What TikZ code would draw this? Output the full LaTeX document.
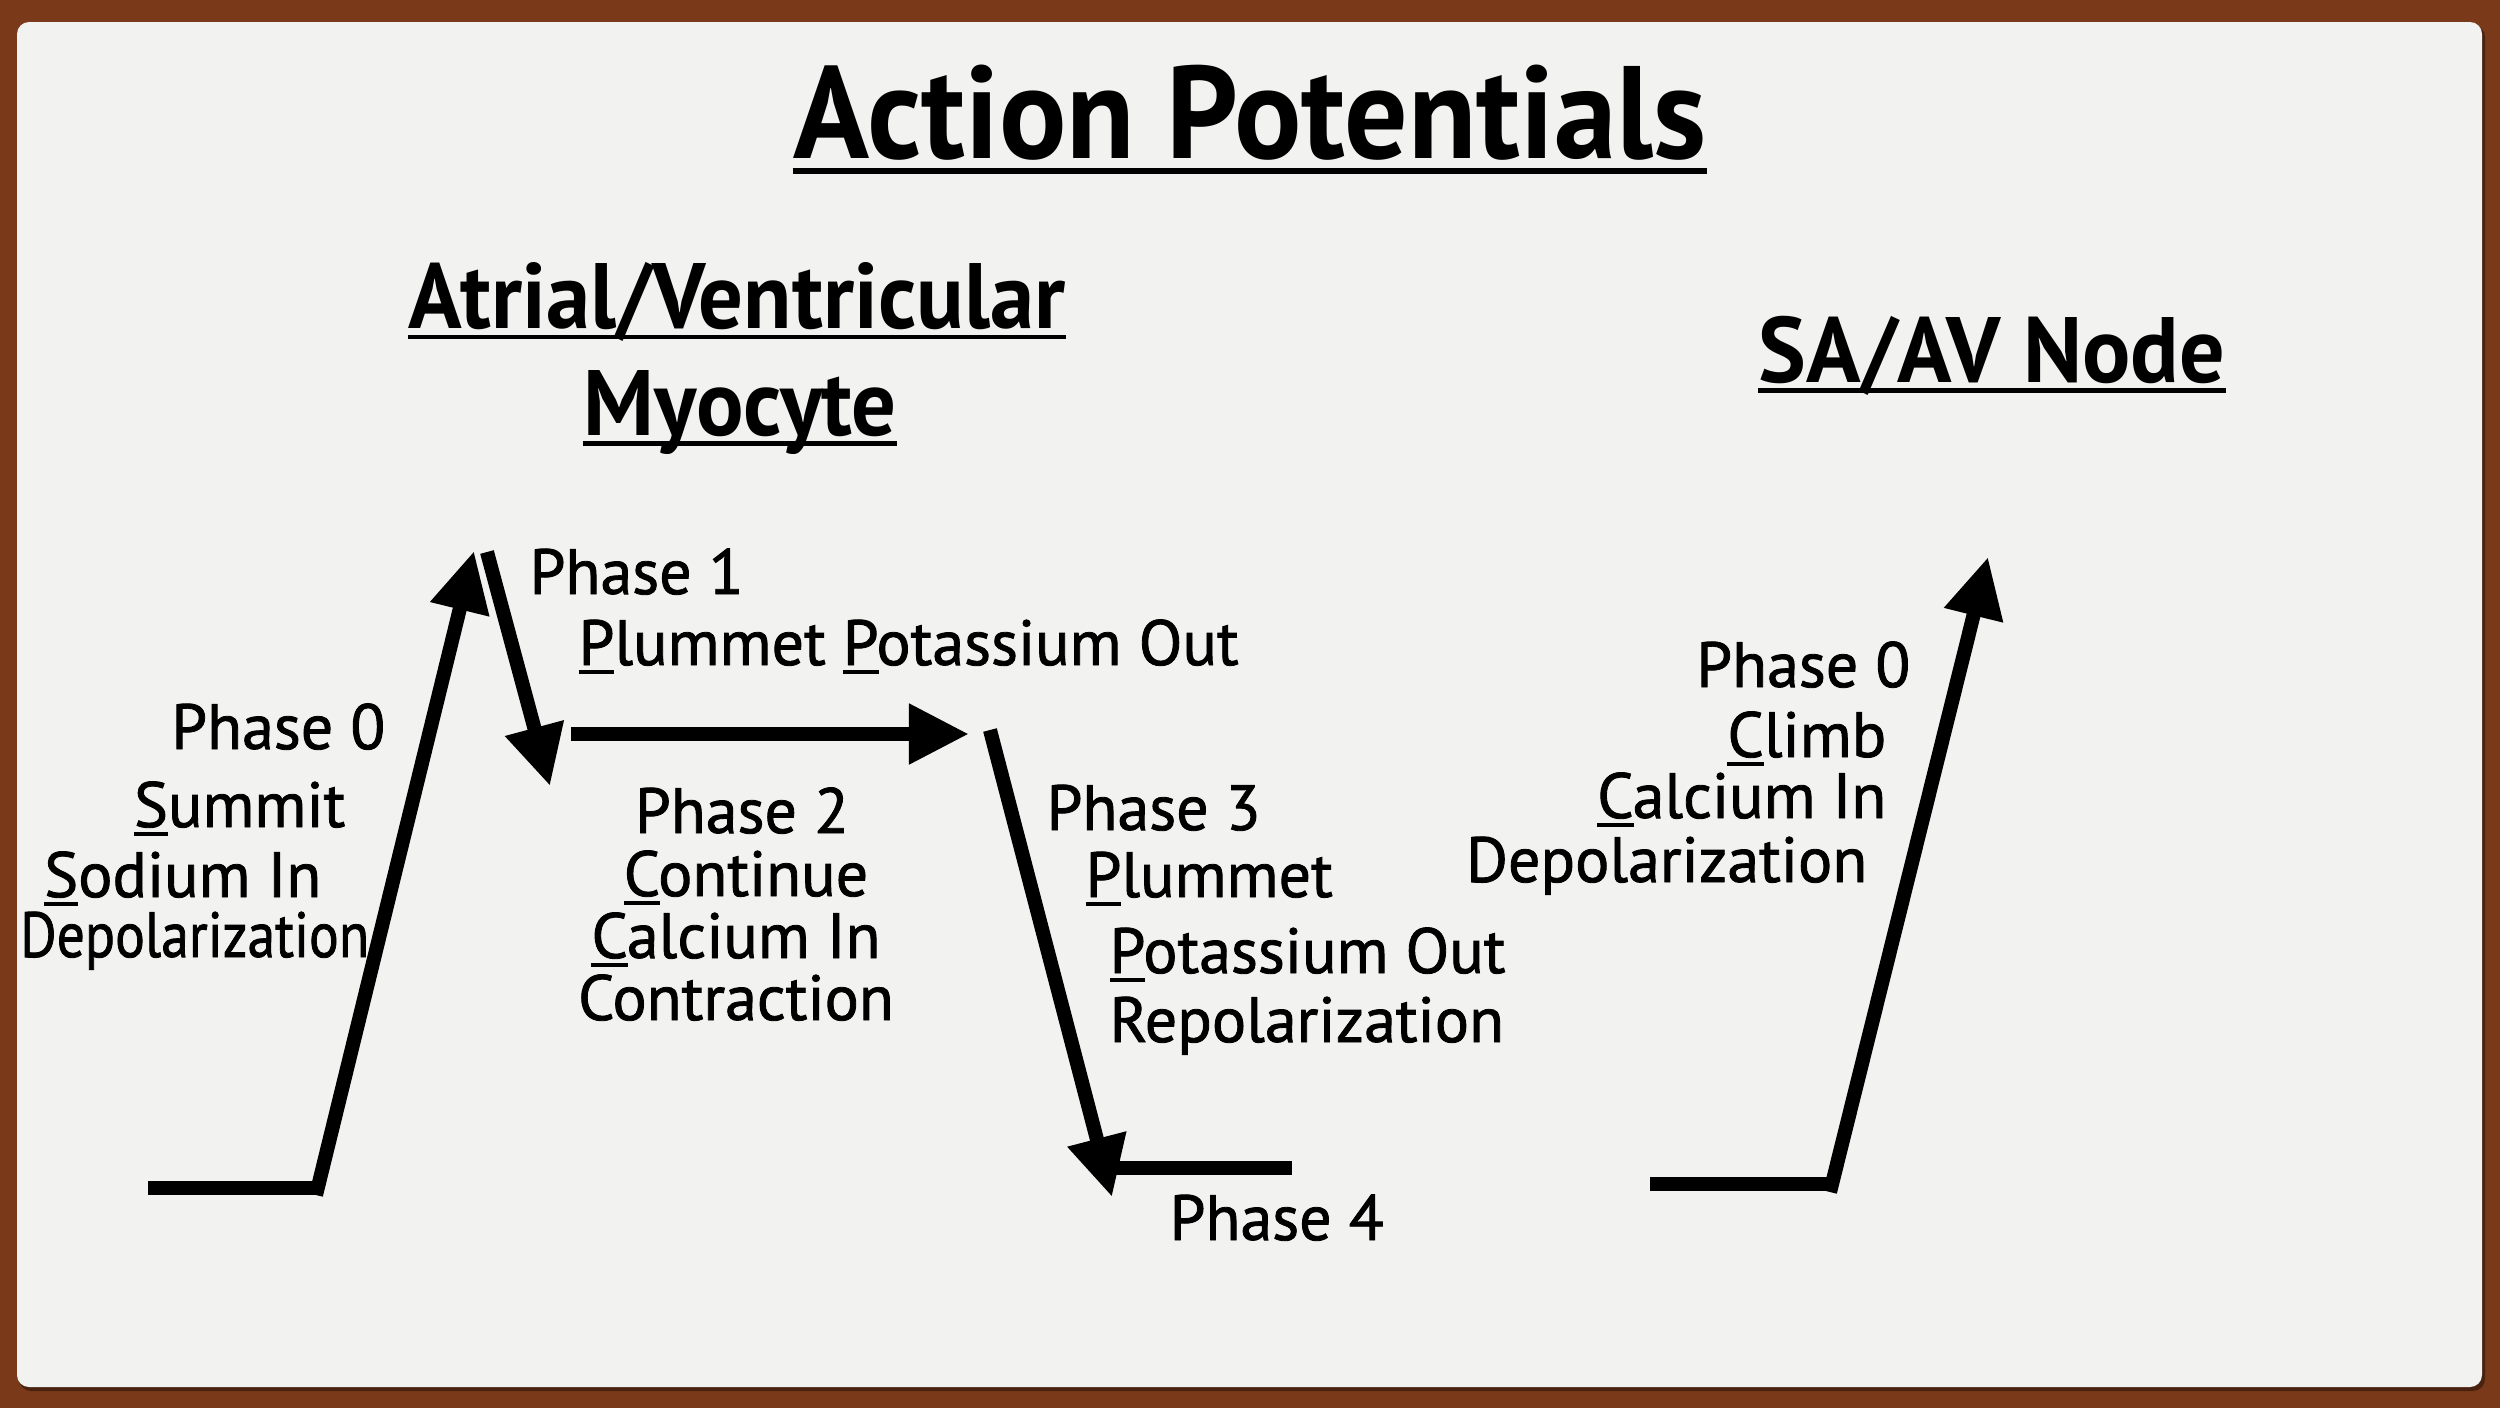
\documentclass[tikz,border=0pt]{standalone}
\usepackage{fontspec}
\setmainfont{PT Sans}
\newfontfamily\lblfont{PT Sans}[FakeBold=1.3]
\usetikzlibrary{arrows.meta}

\definecolor{woodframe}{RGB}{122,58,26}
\definecolor{paper}{RGB}{242,242,240}

% underlined first letter
\newcommand{\ulet}[1]{\setbox0\hbox{#1}\rlap{\rule[-0.145em]{\wd0}{0.06em}}#1}

\begin{document}
\begin{tikzpicture}[
  x=0.01cm, y=-0.01cm,
  lbl/.style={inner sep=0pt, font=\lblfont\fontsize{18.2}{20}\selectfont},
  head/.style={inner sep=0pt, font=\fontsize{26.4}{30}\selectfont\bfseries},
  ttl/.style={inner sep=0pt, font=\fontsize{37.4}{42}\selectfont\bfseries},
  ulline/.style={line width=1.3pt},
  trace/.style={line width=4pt},
  arr/.style={trace, -{Triangle[length=0.6cm, width=0.57cm]}}
]
  % frame and paper
  \fill[woodframe] (0,0) rectangle (2500,1408);
  \fill[woodframe!60!black, rounded corners=0.12cm] (19,25) rectangle (2485,1391);
  \fill[paper, rounded corners=0.12cm] (17,22) rectangle (2482,1387);

  % headings
  \node[ttl, anchor=base] (title) at (1250,158) {\scalebox{0.955}[1]{Action Potentials}};
  \draw[line width=1.8pt] ([yshift=-3.7pt]title.base west) -- ([yshift=-3.7pt]title.base east);
  \node[head, anchor=base] (myoA) at (737,328) {\scalebox{0.954}[1]{Atrial/Ventricular}};
  \draw[ulline] ([yshift=-2.6pt]myoA.base west) -- ([yshift=-2.6pt]myoA.base east);
  \node[head, anchor=base] (myoB) at (740,435) {\scalebox{0.954}[1]{Myocyte}};
  \draw[ulline] ([yshift=-2.4pt]myoB.base west) -- ([yshift=-2.4pt]myoB.base east);
  \node[head, anchor=base] (sahead) at (1992,382) {\scalebox{0.97}[1]{SA/AV Node}};
  \draw[ulline] ([yshift=-2.4pt]sahead.base west) -- ([yshift=-2.4pt]sahead.base east);

  % myocyte labels
  \node[lbl, anchor=base east] (ph0) at (386,749) {Phase 0};
  \node[lbl, anchor=base east] (summit) at (346,827) {\ulet{S}ummit};
  \node[lbl, anchor=base east] (sodium) at (322,897) {\ulet{S}odium In};
  \node[lbl, anchor=base east] (depolA) at (370,957) {\scalebox{0.87}[1]{Depolarization}};

  \node[lbl, anchor=base west] (ph1) at (529,594) {Phase 1};
  \node[lbl, anchor=base west] (plumA) at (578,665) {\ulet{P}lummet \ulet{P}otassium Out};

  \node[lbl, anchor=base] (ph2) at (742,833) {Phase 2};
  \node[lbl, anchor=base] (cont) at (746,896) {\ulet{C}ontinue};
  \node[lbl, anchor=base] (calcA) at (736,958) {\ulet{C}alcium In};
  \node[lbl, anchor=base] (contr) at (736,1020) {Contraction};

  \node[lbl, anchor=base west] (ph3) at (1046,830) {Phase 3};
  \node[lbl, anchor=base west] (plumB) at (1085,897) {\ulet{P}lummet};
  \node[lbl, anchor=base west] (potB) at (1109,973) {\ulet{P}otassium Out};
  \node[lbl, anchor=base west] (repol) at (1109,1042) {Repolarization};

  \node[lbl, anchor=base west] (ph4) at (1169,1240) {Phase 4};

  % node labels
  \node[lbl, anchor=base east] (sa0) at (1911,687) {Phase 0};
  \node[lbl, anchor=base east] (climb) at (1887,757) {\ulet{C}limb};
  \node[lbl, anchor=base east] (calcB) at (1887,818) {\ulet{C}alcium In};
  \node[lbl, anchor=base east] (depolB) at (1868,882) {Depolarization};

  % myocyte trace
  \coordinate (restA) at (148,1188);
  \coordinate (footA) at (323,1188);
  \coordinate (riseA) at (316,1195);
  \coordinate (peakA) at (474,551);
  \coordinate (topB) at (487,552);
  \coordinate (notch) at (550,786);
  \coordinate (platL) at (571,734);
  \coordinate (platR) at (969,734);
  \coordinate (fallA) at (990,730);
  \coordinate (fallB) at (1112,1197);
  \coordinate (restB) at (1112,1168);
  \coordinate (restC) at (1292,1168);
  \draw[trace] (restA) -- (footA);
  \draw[arr] (riseA) -- (peakA);
  \draw[arr] (topB) -- (notch);
  \draw[arr] (platL) -- (platR);
  \draw[arr] (fallA) -- (fallB);
  \draw[trace] (restB) -- (restC);

  % nodal trace
  \coordinate (nrest) at (1650,1184);
  \coordinate (nfoot) at (1834,1184);
  \coordinate (nrise) at (1830,1192);
  \coordinate (npeak) at (1988,557);
  \draw[trace] (nrest) -- (nfoot);
  \draw[arr] (nrise) -- (npeak);
\end{tikzpicture}
\end{document}
